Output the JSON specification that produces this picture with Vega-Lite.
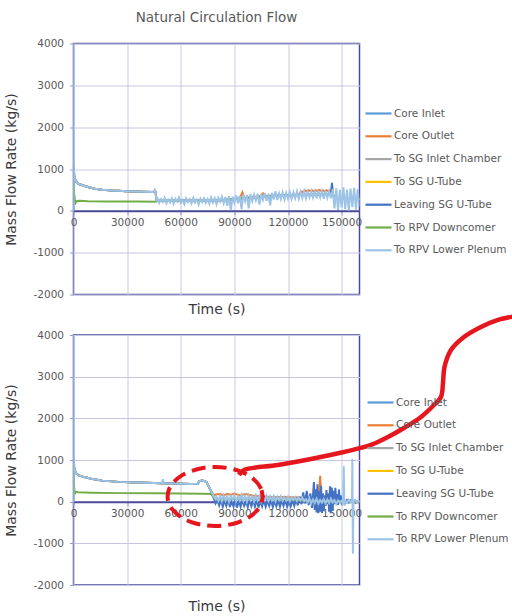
{
  "$schema": "https://vega.github.io/schema/vega-lite/v6.json",
  "background": "white",
  "padding": {"left": 3.5, "top": 9.5, "right": 0, "bottom": 0},
  "bounds": "flush",
  "spacing": 40.5,
  "resolve": {"scale": {"color": "independent"}, "legend": {"color": "independent"}},
  "config": {
    "font": "DejaVu Sans",
    "view": {"stroke": "#4B4B9A", "strokeWidth": 1.5},
    "axis": {
      "gridColor": "#C6C6E2", "gridWidth": 1,
      "labelColor": "#595959", "labelFontSize": 10.5,
      "titleColor": "#3A3A3A", "titleFontSize": 14, "titleFontWeight": "normal",
      "tickColor": "#9A9AC8", "tickSize": 4
    },
    "legend": {
      "title": null, "symbolType": "stroke", "symbolSize": 676, "symbolStrokeWidth": 2.2,
      "labelFontSize": 10.5, "labelColor": "#595959", "rowPadding": 2.8, "labelOffset": 1,
      "padding": 0, "labelLimit": 200
    }
  },
  "datasets": {
    "top": [
      {"series":"Core Inlet","t":0,"v":0},{"series":"Core Inlet","t":60,"v":1100},{"series":"Core Inlet","t":600,"v":790},{"series":"Core Inlet","t":1500,"v":700},{"series":"Core Inlet","t":3000,"v":640},{"series":"Core Inlet","t":5000,"v":610},{"series":"Core Inlet","t":8000,"v":570},{"series":"Core Inlet","t":12000,"v":530},{"series":"Core Inlet","t":16000,"v":505},{"series":"Core Inlet","t":22000,"v":485},{"series":"Core Inlet","t":30000,"v":468},{"series":"Core Inlet","t":38000,"v":458},{"series":"Core Inlet","t":44000,"v":452},{"series":"Core Inlet","t":45000,"v":455},{"series":"Core Inlet","t":46000,"v":440},{"series":"Core Inlet","t":46300,"v":260},{"series":"Core Inlet","t":47000,"v":240},{"series":"Core Inlet","t":60000,"v":240},{"series":"Core Inlet","t":80000,"v":245},{"series":"Core Inlet","t":88000,"v":270},{"series":"Core Inlet","t":100000,"v":320},{"series":"Core Inlet","t":120000,"v":370},{"series":"Core Inlet","t":140000,"v":390},{"series":"Core Inlet","t":145000,"v":380},{"series":"Core Inlet","t":147000,"v":280},{"series":"Core Inlet","t":160000,"v":280},

      {"series":"Core Outlet","t":0,"v":900},{"series":"Core Outlet","t":600,"v":790},{"series":"Core Outlet","t":1500,"v":700},{"series":"Core Outlet","t":3000,"v":640},{"series":"Core Outlet","t":5000,"v":610},{"series":"Core Outlet","t":8000,"v":570},{"series":"Core Outlet","t":12000,"v":530},{"series":"Core Outlet","t":16000,"v":505},{"series":"Core Outlet","t":22000,"v":485},{"series":"Core Outlet","t":30000,"v":468},{"series":"Core Outlet","t":38000,"v":458},{"series":"Core Outlet","t":44000,"v":452},{"series":"Core Outlet","t":45000,"v":455},{"series":"Core Outlet","t":46000,"v":440},{"series":"Core Outlet","t":46300,"v":260},{"series":"Core Outlet","t":47000,"v":240},{"series":"Core Outlet","t":60000,"v":240},{"series":"Core Outlet","t":80000,"v":245},{"series":"Core Outlet","t":88000,"v":270},{"series":"Core Outlet","t":93000,"v":300},{"series":"Core Outlet","t":94500,"v":440},{"series":"Core Outlet","t":95500,"v":300},{"series":"Core Outlet","t":100000,"v":320},{"series":"Core Outlet","t":104000,"v":340},{"series":"Core Outlet","t":106000,"v":420},{"series":"Core Outlet","t":107000,"v":340},{"series":"Core Outlet","t":110000,"v":360},{"series":"Core Outlet","t":120000,"v":370},{"series":"Core Outlet","t":126000,"v":390},{"series":"Core Outlet","t":127500,"v":460},{"series":"Core Outlet","t":128500,"v":440},{"series":"Core Outlet","t":129500,"v":490},{"series":"Core Outlet","t":130500,"v":465},{"series":"Core Outlet","t":131500,"v":495},{"series":"Core Outlet","t":132500,"v":470},{"series":"Core Outlet","t":133500,"v":490},{"series":"Core Outlet","t":134500,"v":460},{"series":"Core Outlet","t":135500,"v":495},{"series":"Core Outlet","t":136500,"v":470},{"series":"Core Outlet","t":137500,"v":500},{"series":"Core Outlet","t":138500,"v":475},{"series":"Core Outlet","t":139500,"v":490},{"series":"Core Outlet","t":140500,"v":465},{"series":"Core Outlet","t":141500,"v":495},{"series":"Core Outlet","t":142500,"v":470},{"series":"Core Outlet","t":143500,"v":485},{"series":"Core Outlet","t":144500,"v":400},{"series":"Core Outlet","t":147000,"v":280},{"series":"Core Outlet","t":160000,"v":280},

      {"series":"To SG Inlet Chamber","t":0,"v":900},{"series":"To SG Inlet Chamber","t":600,"v":790},{"series":"To SG Inlet Chamber","t":1500,"v":700},{"series":"To SG Inlet Chamber","t":3000,"v":640},{"series":"To SG Inlet Chamber","t":5000,"v":610},{"series":"To SG Inlet Chamber","t":8000,"v":570},{"series":"To SG Inlet Chamber","t":12000,"v":530},{"series":"To SG Inlet Chamber","t":16000,"v":505},{"series":"To SG Inlet Chamber","t":22000,"v":485},{"series":"To SG Inlet Chamber","t":30000,"v":468},{"series":"To SG Inlet Chamber","t":38000,"v":458},{"series":"To SG Inlet Chamber","t":44000,"v":452},{"series":"To SG Inlet Chamber","t":45000,"v":455},{"series":"To SG Inlet Chamber","t":46000,"v":440},{"series":"To SG Inlet Chamber","t":46300,"v":260},{"series":"To SG Inlet Chamber","t":47000,"v":240},{"series":"To SG Inlet Chamber","t":60000,"v":240},{"series":"To SG Inlet Chamber","t":80000,"v":245},{"series":"To SG Inlet Chamber","t":88000,"v":270},{"series":"To SG Inlet Chamber","t":100000,"v":320},{"series":"To SG Inlet Chamber","t":120000,"v":370},{"series":"To SG Inlet Chamber","t":140000,"v":390},{"series":"To SG Inlet Chamber","t":145000,"v":380},{"series":"To SG Inlet Chamber","t":147000,"v":280},{"series":"To SG Inlet Chamber","t":160000,"v":280},

      {"series":"To SG U-Tube","t":0,"v":900},{"series":"To SG U-Tube","t":600,"v":790},{"series":"To SG U-Tube","t":1500,"v":700},{"series":"To SG U-Tube","t":3000,"v":640},{"series":"To SG U-Tube","t":5000,"v":610},{"series":"To SG U-Tube","t":8000,"v":570},{"series":"To SG U-Tube","t":12000,"v":530},{"series":"To SG U-Tube","t":16000,"v":505},{"series":"To SG U-Tube","t":22000,"v":485},{"series":"To SG U-Tube","t":30000,"v":468},{"series":"To SG U-Tube","t":38000,"v":458},{"series":"To SG U-Tube","t":44000,"v":452},{"series":"To SG U-Tube","t":45000,"v":455},{"series":"To SG U-Tube","t":46000,"v":440},{"series":"To SG U-Tube","t":46300,"v":260},{"series":"To SG U-Tube","t":47000,"v":240},{"series":"To SG U-Tube","t":60000,"v":240},{"series":"To SG U-Tube","t":80000,"v":245},{"series":"To SG U-Tube","t":88000,"v":270},{"series":"To SG U-Tube","t":100000,"v":320},{"series":"To SG U-Tube","t":120000,"v":370},{"series":"To SG U-Tube","t":140000,"v":390},{"series":"To SG U-Tube","t":145000,"v":380},{"series":"To SG U-Tube","t":147000,"v":280},{"series":"To SG U-Tube","t":160000,"v":280},

      {"series":"Leaving SG U-Tube","t":0,"v":900},{"series":"Leaving SG U-Tube","t":600,"v":790},{"series":"Leaving SG U-Tube","t":1500,"v":700},{"series":"Leaving SG U-Tube","t":3000,"v":640},{"series":"Leaving SG U-Tube","t":5000,"v":610},{"series":"Leaving SG U-Tube","t":8000,"v":570},{"series":"Leaving SG U-Tube","t":12000,"v":530},{"series":"Leaving SG U-Tube","t":16000,"v":505},{"series":"Leaving SG U-Tube","t":22000,"v":485},{"series":"Leaving SG U-Tube","t":30000,"v":468},{"series":"Leaving SG U-Tube","t":38000,"v":458},{"series":"Leaving SG U-Tube","t":44000,"v":452},{"series":"Leaving SG U-Tube","t":45000,"v":455},{"series":"Leaving SG U-Tube","t":46000,"v":440},{"series":"Leaving SG U-Tube","t":46300,"v":260},{"series":"Leaving SG U-Tube","t":47000,"v":240},{"series":"Leaving SG U-Tube","t":60000,"v":240},{"series":"Leaving SG U-Tube","t":80000,"v":245},{"series":"Leaving SG U-Tube","t":88000,"v":270},{"series":"Leaving SG U-Tube","t":100000,"v":320},{"series":"Leaving SG U-Tube","t":120000,"v":370},{"series":"Leaving SG U-Tube","t":140000,"v":390},{"series":"Leaving SG U-Tube","t":144000,"v":390},{"series":"Leaving SG U-Tube","t":144600,"v":670},{"series":"Leaving SG U-Tube","t":145200,"v":380},{"series":"Leaving SG U-Tube","t":147000,"v":280},{"series":"Leaving SG U-Tube","t":160000,"v":280},

      {"series":"To RPV Downcomer","t":0,"v":700},{"series":"To RPV Downcomer","t":300,"v":430},{"series":"To RPV Downcomer","t":800,"v":260},{"series":"To RPV Downcomer","t":1200,"v":190},{"series":"To RPV Downcomer","t":2000,"v":235},{"series":"To RPV Downcomer","t":3500,"v":240},{"series":"To RPV Downcomer","t":8000,"v":232},{"series":"To RPV Downcomer","t":20000,"v":225},{"series":"To RPV Downcomer","t":35000,"v":222},{"series":"To RPV Downcomer","t":46000,"v":220},{"series":"To RPV Downcomer","t":47000,"v":240},{"series":"To RPV Downcomer","t":60000,"v":240},{"series":"To RPV Downcomer","t":80000,"v":245},{"series":"To RPV Downcomer","t":88000,"v":270},{"series":"To RPV Downcomer","t":100000,"v":320},{"series":"To RPV Downcomer","t":120000,"v":370},{"series":"To RPV Downcomer","t":140000,"v":390},{"series":"To RPV Downcomer","t":145000,"v":380},{"series":"To RPV Downcomer","t":147000,"v":280},{"series":"To RPV Downcomer","t":160000,"v":280},

      {"series":"To RPV Lower Plenum","t":0,"v":0},{"series":"To RPV Lower Plenum","t":60,"v":4400},{"series":"To RPV Lower Plenum","t":200,"v":1000},{"series":"To RPV Lower Plenum","t":600,"v":790},{"series":"To RPV Lower Plenum","t":1500,"v":700},{"series":"To RPV Lower Plenum","t":3000,"v":640},{"series":"To RPV Lower Plenum","t":5000,"v":610},{"series":"To RPV Lower Plenum","t":8000,"v":570},{"series":"To RPV Lower Plenum","t":12000,"v":530},{"series":"To RPV Lower Plenum","t":16000,"v":505},{"series":"To RPV Lower Plenum","t":22000,"v":485},{"series":"To RPV Lower Plenum","t":30000,"v":468},{"series":"To RPV Lower Plenum","t":38000,"v":458},{"series":"To RPV Lower Plenum","t":44000,"v":452},{"series":"To RPV Lower Plenum","t":45000,"v":455},{"series":"To RPV Lower Plenum","t":45500,"v":500},{"series":"To RPV Lower Plenum","t":46000,"v":440},{"series":"To RPV Lower Plenum","t":46300,"v":260},
      {"series":"To RPV Lower Plenum","t":47000,"v":300},{"series":"To RPV Lower Plenum","t":48000,"v":190},{"series":"To RPV Lower Plenum","t":49000,"v":280},{"series":"To RPV Lower Plenum","t":50000,"v":210},{"series":"To RPV Lower Plenum","t":51000,"v":310},{"series":"To RPV Lower Plenum","t":52000,"v":180},{"series":"To RPV Lower Plenum","t":53000,"v":270},{"series":"To RPV Lower Plenum","t":54000,"v":200},{"series":"To RPV Lower Plenum","t":55000,"v":300},{"series":"To RPV Lower Plenum","t":56000,"v":170},{"series":"To RPV Lower Plenum","t":57000,"v":290},{"series":"To RPV Lower Plenum","t":58000,"v":220},{"series":"To RPV Lower Plenum","t":59000,"v":320},{"series":"To RPV Lower Plenum","t":60000,"v":190},{"series":"To RPV Lower Plenum","t":61000,"v":260},{"series":"To RPV Lower Plenum","t":62000,"v":160},{"series":"To RPV Lower Plenum","t":63000,"v":300},{"series":"To RPV Lower Plenum","t":64000,"v":210},{"series":"To RPV Lower Plenum","t":65000,"v":280},{"series":"To RPV Lower Plenum","t":66000,"v":180},{"series":"To RPV Lower Plenum","t":67000,"v":310},{"series":"To RPV Lower Plenum","t":68000,"v":200},{"series":"To RPV Lower Plenum","t":69000,"v":270},{"series":"To RPV Lower Plenum","t":70000,"v":150},{"series":"To RPV Lower Plenum","t":71000,"v":290},{"series":"To RPV Lower Plenum","t":72000,"v":210},{"series":"To RPV Lower Plenum","t":73000,"v":300},{"series":"To RPV Lower Plenum","t":74000,"v":190},{"series":"To RPV Lower Plenum","t":75000,"v":280},{"series":"To RPV Lower Plenum","t":76000,"v":170},{"series":"To RPV Lower Plenum","t":77000,"v":320},{"series":"To RPV Lower Plenum","t":78000,"v":200},{"series":"To RPV Lower Plenum","t":79000,"v":300},{"series":"To RPV Lower Plenum","t":80000,"v":160},{"series":"To RPV Lower Plenum","t":81000,"v":310},{"series":"To RPV Lower Plenum","t":82000,"v":220},{"series":"To RPV Lower Plenum","t":83000,"v":340},{"series":"To RPV Lower Plenum","t":84000,"v":180},{"series":"To RPV Lower Plenum","t":85000,"v":330},{"series":"To RPV Lower Plenum","t":86000,"v":120},{"series":"To RPV Lower Plenum","t":87000,"v":350},{"series":"To RPV Lower Plenum","t":88000,"v":20},{"series":"To RPV Lower Plenum","t":89000,"v":340},{"series":"To RPV Lower Plenum","t":90000,"v":200},{"series":"To RPV Lower Plenum","t":91000,"v":370},{"series":"To RPV Lower Plenum","t":92000,"v":180},{"series":"To RPV Lower Plenum","t":93000,"v":360},{"series":"To RPV Lower Plenum","t":94000,"v":40},{"series":"To RPV Lower Plenum","t":95000,"v":390},{"series":"To RPV Lower Plenum","t":96000,"v":230},{"series":"To RPV Lower Plenum","t":97000,"v":380},{"series":"To RPV Lower Plenum","t":98000,"v":60},{"series":"To RPV Lower Plenum","t":99000,"v":400},{"series":"To RPV Lower Plenum","t":100000,"v":230},{"series":"To RPV Lower Plenum","t":101000,"v":390},{"series":"To RPV Lower Plenum","t":102000,"v":250},{"series":"To RPV Lower Plenum","t":103000,"v":410},{"series":"To RPV Lower Plenum","t":104000,"v":150},{"series":"To RPV Lower Plenum","t":105000,"v":400},{"series":"To RPV Lower Plenum","t":106000,"v":260},{"series":"To RPV Lower Plenum","t":107000,"v":420},{"series":"To RPV Lower Plenum","t":108000,"v":240},{"series":"To RPV Lower Plenum","t":109000,"v":410},{"series":"To RPV Lower Plenum","t":110000,"v":130},{"series":"To RPV Lower Plenum","t":111000,"v":430},{"series":"To RPV Lower Plenum","t":112000,"v":270},{"series":"To RPV Lower Plenum","t":113000,"v":470},{"series":"To RPV Lower Plenum","t":114000,"v":260},{"series":"To RPV Lower Plenum","t":115000,"v":420},{"series":"To RPV Lower Plenum","t":116000,"v":280},{"series":"To RPV Lower Plenum","t":117000,"v":440},{"series":"To RPV Lower Plenum","t":118000,"v":270},{"series":"To RPV Lower Plenum","t":119000,"v":430},{"series":"To RPV Lower Plenum","t":120000,"v":290},{"series":"To RPV Lower Plenum","t":121000,"v":450},{"series":"To RPV Lower Plenum","t":122000,"v":280},{"series":"To RPV Lower Plenum","t":123000,"v":440},{"series":"To RPV Lower Plenum","t":124000,"v":300},{"series":"To RPV Lower Plenum","t":125000,"v":460},{"series":"To RPV Lower Plenum","t":126000,"v":290},{"series":"To RPV Lower Plenum","t":127000,"v":450},{"series":"To RPV Lower Plenum","t":128000,"v":310},{"series":"To RPV Lower Plenum","t":129000,"v":470},{"series":"To RPV Lower Plenum","t":130000,"v":300},{"series":"To RPV Lower Plenum","t":131000,"v":450},{"series":"To RPV Lower Plenum","t":132000,"v":320},{"series":"To RPV Lower Plenum","t":133000,"v":470},{"series":"To RPV Lower Plenum","t":134000,"v":310},{"series":"To RPV Lower Plenum","t":135000,"v":460},{"series":"To RPV Lower Plenum","t":136000,"v":300},{"series":"To RPV Lower Plenum","t":137000,"v":480},{"series":"To RPV Lower Plenum","t":138000,"v":320},{"series":"To RPV Lower Plenum","t":139000,"v":470},{"series":"To RPV Lower Plenum","t":140000,"v":290},{"series":"To RPV Lower Plenum","t":141000,"v":480},{"series":"To RPV Lower Plenum","t":142000,"v":310},{"series":"To RPV Lower Plenum","t":143000,"v":470},{"series":"To RPV Lower Plenum","t":144000,"v":300},{"series":"To RPV Lower Plenum","t":145000,"v":520},{"series":"To RPV Lower Plenum","t":146000,"v":60},{"series":"To RPV Lower Plenum","t":147000,"v":540},{"series":"To RPV Lower Plenum","t":148000,"v":20},{"series":"To RPV Lower Plenum","t":149000,"v":500},{"series":"To RPV Lower Plenum","t":150000,"v":80},{"series":"To RPV Lower Plenum","t":151000,"v":560},{"series":"To RPV Lower Plenum","t":152000,"v":40},{"series":"To RPV Lower Plenum","t":153000,"v":510},{"series":"To RPV Lower Plenum","t":154000,"v":10},{"series":"To RPV Lower Plenum","t":155000,"v":530},{"series":"To RPV Lower Plenum","t":156000,"v":90},{"series":"To RPV Lower Plenum","t":157000,"v":550},{"series":"To RPV Lower Plenum","t":158000,"v":30},{"series":"To RPV Lower Plenum","t":159000,"v":520},{"series":"To RPV Lower Plenum","t":160000,"v":100}
    ],
    "bottom": [
      {"series":"Core Inlet","t":0,"v":0},{"series":"Core Inlet","t":60,"v":1050},{"series":"Core Inlet","t":600,"v":770},{"series":"Core Inlet","t":1500,"v":680},{"series":"Core Inlet","t":3000,"v":630},{"series":"Core Inlet","t":6000,"v":590},{"series":"Core Inlet","t":10000,"v":550},{"series":"Core Inlet","t":16000,"v":505},{"series":"Core Inlet","t":25000,"v":475},{"series":"Core Inlet","t":35000,"v":458},{"series":"Core Inlet","t":45000,"v":447},{"series":"Core Inlet","t":49500,"v":440},{"series":"Core Inlet","t":50500,"v":442},{"series":"Core Inlet","t":60000,"v":432},{"series":"Core Inlet","t":66000,"v":425},{"series":"Core Inlet","t":69500,"v":430},{"series":"Core Inlet","t":70500,"v":495},{"series":"Core Inlet","t":72000,"v":510},{"series":"Core Inlet","t":73500,"v":490},{"series":"Core Inlet","t":74500,"v":465},{"series":"Core Inlet","t":75500,"v":380},{"series":"Core Inlet","t":77000,"v":250},{"series":"Core Inlet","t":78500,"v":120},{"series":"Core Inlet","t":79500,"v":60},{"series":"Core Inlet","t":100000,"v":70},{"series":"Core Inlet","t":120000,"v":60},{"series":"Core Inlet","t":130000,"v":20},{"series":"Core Inlet","t":150000,"v":0},{"series":"Core Inlet","t":160000,"v":0},

      {"series":"Core Outlet","t":0,"v":900},{"series":"Core Outlet","t":600,"v":770},{"series":"Core Outlet","t":1500,"v":680},{"series":"Core Outlet","t":3000,"v":630},{"series":"Core Outlet","t":6000,"v":590},{"series":"Core Outlet","t":10000,"v":550},{"series":"Core Outlet","t":16000,"v":505},{"series":"Core Outlet","t":25000,"v":475},{"series":"Core Outlet","t":35000,"v":458},{"series":"Core Outlet","t":45000,"v":447},{"series":"Core Outlet","t":49500,"v":440},{"series":"Core Outlet","t":50500,"v":442},{"series":"Core Outlet","t":60000,"v":432},{"series":"Core Outlet","t":66000,"v":425},{"series":"Core Outlet","t":69500,"v":430},{"series":"Core Outlet","t":70500,"v":495},{"series":"Core Outlet","t":72000,"v":510},{"series":"Core Outlet","t":73500,"v":490},{"series":"Core Outlet","t":74500,"v":465},{"series":"Core Outlet","t":75500,"v":380},{"series":"Core Outlet","t":77000,"v":250},{"series":"Core Outlet","t":78500,"v":150},{"series":"Core Outlet","t":79500,"v":170},{"series":"Core Outlet","t":82000,"v":185},{"series":"Core Outlet","t":84000,"v":150},{"series":"Core Outlet","t":86000,"v":190},{"series":"Core Outlet","t":88000,"v":160},{"series":"Core Outlet","t":90000,"v":195},{"series":"Core Outlet","t":93000,"v":150},{"series":"Core Outlet","t":96000,"v":185},{"series":"Core Outlet","t":100000,"v":150},{"series":"Core Outlet","t":104000,"v":130},{"series":"Core Outlet","t":110000,"v":115},{"series":"Core Outlet","t":116000,"v":110},{"series":"Core Outlet","t":122000,"v":105},{"series":"Core Outlet","t":128000,"v":95},{"series":"Core Outlet","t":132000,"v":80},{"series":"Core Outlet","t":136000,"v":100},{"series":"Core Outlet","t":137500,"v":260},{"series":"Core Outlet","t":138000,"v":620},{"series":"Core Outlet","t":138500,"v":180},{"series":"Core Outlet","t":140000,"v":60},{"series":"Core Outlet","t":146000,"v":40},{"series":"Core Outlet","t":150000,"v":20},{"series":"Core Outlet","t":160000,"v":0},

      {"series":"To SG Inlet Chamber","t":0,"v":900},{"series":"To SG Inlet Chamber","t":600,"v":770},{"series":"To SG Inlet Chamber","t":1500,"v":680},{"series":"To SG Inlet Chamber","t":3000,"v":630},{"series":"To SG Inlet Chamber","t":6000,"v":590},{"series":"To SG Inlet Chamber","t":10000,"v":550},{"series":"To SG Inlet Chamber","t":16000,"v":505},{"series":"To SG Inlet Chamber","t":25000,"v":475},{"series":"To SG Inlet Chamber","t":35000,"v":458},{"series":"To SG Inlet Chamber","t":45000,"v":447},{"series":"To SG Inlet Chamber","t":49500,"v":440},{"series":"To SG Inlet Chamber","t":50500,"v":442},{"series":"To SG Inlet Chamber","t":60000,"v":432},{"series":"To SG Inlet Chamber","t":66000,"v":425},{"series":"To SG Inlet Chamber","t":69500,"v":430},{"series":"To SG Inlet Chamber","t":70500,"v":495},{"series":"To SG Inlet Chamber","t":72000,"v":510},{"series":"To SG Inlet Chamber","t":73500,"v":490},{"series":"To SG Inlet Chamber","t":74500,"v":465},{"series":"To SG Inlet Chamber","t":75500,"v":380},{"series":"To SG Inlet Chamber","t":77000,"v":250},{"series":"To SG Inlet Chamber","t":78500,"v":120},{"series":"To SG Inlet Chamber","t":79500,"v":60},{"series":"To SG Inlet Chamber","t":100000,"v":70},{"series":"To SG Inlet Chamber","t":120000,"v":60},{"series":"To SG Inlet Chamber","t":130000,"v":20},{"series":"To SG Inlet Chamber","t":150000,"v":0},{"series":"To SG Inlet Chamber","t":160000,"v":0},

      {"series":"To SG U-Tube","t":0,"v":900},{"series":"To SG U-Tube","t":600,"v":770},{"series":"To SG U-Tube","t":1500,"v":680},{"series":"To SG U-Tube","t":3000,"v":630},{"series":"To SG U-Tube","t":6000,"v":590},{"series":"To SG U-Tube","t":10000,"v":550},{"series":"To SG U-Tube","t":16000,"v":505},{"series":"To SG U-Tube","t":25000,"v":475},{"series":"To SG U-Tube","t":35000,"v":458},{"series":"To SG U-Tube","t":45000,"v":447},{"series":"To SG U-Tube","t":49500,"v":440},{"series":"To SG U-Tube","t":50500,"v":442},{"series":"To SG U-Tube","t":60000,"v":432},{"series":"To SG U-Tube","t":66000,"v":425},{"series":"To SG U-Tube","t":69500,"v":430},{"series":"To SG U-Tube","t":70500,"v":495},{"series":"To SG U-Tube","t":72000,"v":510},{"series":"To SG U-Tube","t":73500,"v":490},{"series":"To SG U-Tube","t":74500,"v":465},{"series":"To SG U-Tube","t":75500,"v":380},{"series":"To SG U-Tube","t":77000,"v":250},{"series":"To SG U-Tube","t":78500,"v":120},{"series":"To SG U-Tube","t":79500,"v":60},{"series":"To SG U-Tube","t":100000,"v":70},{"series":"To SG U-Tube","t":120000,"v":60},{"series":"To SG U-Tube","t":130000,"v":20},{"series":"To SG U-Tube","t":150000,"v":0},{"series":"To SG U-Tube","t":160000,"v":0},

      {"series":"Leaving SG U-Tube","t":0,"v":900},{"series":"Leaving SG U-Tube","t":600,"v":770},{"series":"Leaving SG U-Tube","t":1500,"v":680},{"series":"Leaving SG U-Tube","t":3000,"v":630},{"series":"Leaving SG U-Tube","t":6000,"v":590},{"series":"Leaving SG U-Tube","t":10000,"v":550},{"series":"Leaving SG U-Tube","t":16000,"v":505},{"series":"Leaving SG U-Tube","t":25000,"v":475},{"series":"Leaving SG U-Tube","t":35000,"v":458},{"series":"Leaving SG U-Tube","t":45000,"v":447},{"series":"Leaving SG U-Tube","t":49500,"v":440},{"series":"Leaving SG U-Tube","t":50500,"v":442},{"series":"Leaving SG U-Tube","t":60000,"v":432},{"series":"Leaving SG U-Tube","t":66000,"v":425},{"series":"Leaving SG U-Tube","t":69500,"v":430},{"series":"Leaving SG U-Tube","t":70500,"v":495},{"series":"Leaving SG U-Tube","t":72000,"v":510},{"series":"Leaving SG U-Tube","t":73500,"v":490},{"series":"Leaving SG U-Tube","t":74500,"v":465},{"series":"Leaving SG U-Tube","t":75500,"v":380},{"series":"Leaving SG U-Tube","t":77000,"v":250},
      {"series":"Leaving SG U-Tube","t":78500,"v":80},{"series":"Leaving SG U-Tube","t":79500,"v":-40},{"series":"Leaving SG U-Tube","t":80500,"v":50},{"series":"Leaving SG U-Tube","t":81500,"v":-90},{"series":"Leaving SG U-Tube","t":82500,"v":40},{"series":"Leaving SG U-Tube","t":83500,"v":-120},{"series":"Leaving SG U-Tube","t":84500,"v":30},{"series":"Leaving SG U-Tube","t":85500,"v":-100},{"series":"Leaving SG U-Tube","t":86500,"v":60},{"series":"Leaving SG U-Tube","t":87500,"v":-130},{"series":"Leaving SG U-Tube","t":88500,"v":20},{"series":"Leaving SG U-Tube","t":89500,"v":-110},{"series":"Leaving SG U-Tube","t":90500,"v":50},{"series":"Leaving SG U-Tube","t":91500,"v":-140},{"series":"Leaving SG U-Tube","t":92500,"v":30},{"series":"Leaving SG U-Tube","t":93500,"v":-120},{"series":"Leaving SG U-Tube","t":94500,"v":40},{"series":"Leaving SG U-Tube","t":95500,"v":-100},{"series":"Leaving SG U-Tube","t":96500,"v":20},{"series":"Leaving SG U-Tube","t":97500,"v":-130},{"series":"Leaving SG U-Tube","t":98500,"v":50},{"series":"Leaving SG U-Tube","t":99500,"v":-110},{"series":"Leaving SG U-Tube","t":100500,"v":30},{"series":"Leaving SG U-Tube","t":101500,"v":-120},{"series":"Leaving SG U-Tube","t":102500,"v":40},{"series":"Leaving SG U-Tube","t":103500,"v":-140},{"series":"Leaving SG U-Tube","t":104500,"v":20},{"series":"Leaving SG U-Tube","t":105500,"v":-110},{"series":"Leaving SG U-Tube","t":106500,"v":50},{"series":"Leaving SG U-Tube","t":107500,"v":-120},{"series":"Leaving SG U-Tube","t":108500,"v":30},{"series":"Leaving SG U-Tube","t":109500,"v":-100},{"series":"Leaving SG U-Tube","t":110500,"v":40},{"series":"Leaving SG U-Tube","t":111500,"v":-130},{"series":"Leaving SG U-Tube","t":112500,"v":20},{"series":"Leaving SG U-Tube","t":113500,"v":-110},{"series":"Leaving SG U-Tube","t":114500,"v":40},{"series":"Leaving SG U-Tube","t":115500,"v":-120},{"series":"Leaving SG U-Tube","t":116500,"v":30},{"series":"Leaving SG U-Tube","t":117500,"v":-100},{"series":"Leaving SG U-Tube","t":118500,"v":50},{"series":"Leaving SG U-Tube","t":119500,"v":-120},{"series":"Leaving SG U-Tube","t":120500,"v":20},{"series":"Leaving SG U-Tube","t":121500,"v":-110},{"series":"Leaving SG U-Tube","t":122500,"v":40},{"series":"Leaving SG U-Tube","t":123500,"v":-100},{"series":"Leaving SG U-Tube","t":124500,"v":60},{"series":"Leaving SG U-Tube","t":125500,"v":-90},{"series":"Leaving SG U-Tube","t":126500,"v":120},{"series":"Leaving SG U-Tube","t":127500,"v":-60},{"series":"Leaving SG U-Tube","t":128500,"v":220},{"series":"Leaving SG U-Tube","t":129500,"v":-40},{"series":"Leaving SG U-Tube","t":130500,"v":260},{"series":"Leaving SG U-Tube","t":131500,"v":-80},{"series":"Leaving SG U-Tube","t":132500,"v":200},{"series":"Leaving SG U-Tube","t":133500,"v":-150},{"series":"Leaving SG U-Tube","t":134500,"v":470},{"series":"Leaving SG U-Tube","t":135000,"v":-200},{"series":"Leaving SG U-Tube","t":135500,"v":300},{"series":"Leaving SG U-Tube","t":136000,"v":-260},{"series":"Leaving SG U-Tube","t":136500,"v":420},{"series":"Leaving SG U-Tube","t":137000,"v":-280},{"series":"Leaving SG U-Tube","t":137500,"v":250},{"series":"Leaving SG U-Tube","t":138000,"v":-240},{"series":"Leaving SG U-Tube","t":138500,"v":380},{"series":"Leaving SG U-Tube","t":139000,"v":-270},{"series":"Leaving SG U-Tube","t":139500,"v":200},{"series":"Leaving SG U-Tube","t":140000,"v":-230},{"series":"Leaving SG U-Tube","t":140500,"v":150},{"series":"Leaving SG U-Tube","t":141000,"v":-100},{"series":"Leaving SG U-Tube","t":141500,"v":280},{"series":"Leaving SG U-Tube","t":142000,"v":-60},{"series":"Leaving SG U-Tube","t":142500,"v":200},{"series":"Leaving SG U-Tube","t":143000,"v":-240},{"series":"Leaving SG U-Tube","t":143500,"v":370},{"series":"Leaving SG U-Tube","t":144000,"v":-280},{"series":"Leaving SG U-Tube","t":144500,"v":340},{"series":"Leaving SG U-Tube","t":145000,"v":-220},{"series":"Leaving SG U-Tube","t":145500,"v":260},{"series":"Leaving SG U-Tube","t":146000,"v":-60},{"series":"Leaving SG U-Tube","t":146500,"v":330},{"series":"Leaving SG U-Tube","t":147000,"v":-40},{"series":"Leaving SG U-Tube","t":147500,"v":180},{"series":"Leaving SG U-Tube","t":148000,"v":-80},{"series":"Leaving SG U-Tube","t":148500,"v":290},{"series":"Leaving SG U-Tube","t":149000,"v":-30},{"series":"Leaving SG U-Tube","t":149500,"v":150},{"series":"Leaving SG U-Tube","t":150000,"v":-20},{"series":"Leaving SG U-Tube","t":151000,"v":60},{"series":"Leaving SG U-Tube","t":152000,"v":-30},{"series":"Leaving SG U-Tube","t":153000,"v":40},{"series":"Leaving SG U-Tube","t":154000,"v":-20},{"series":"Leaving SG U-Tube","t":155000,"v":30},{"series":"Leaving SG U-Tube","t":156000,"v":-10},{"series":"Leaving SG U-Tube","t":157000,"v":20},{"series":"Leaving SG U-Tube","t":158000,"v":-30},{"series":"Leaving SG U-Tube","t":159000,"v":10},{"series":"Leaving SG U-Tube","t":160000,"v":0},

      {"series":"To RPV Downcomer","t":0,"v":700},{"series":"To RPV Downcomer","t":300,"v":380},{"series":"To RPV Downcomer","t":700,"v":180},{"series":"To RPV Downcomer","t":1200,"v":235},{"series":"To RPV Downcomer","t":2500,"v":225},{"series":"To RPV Downcomer","t":10000,"v":215},{"series":"To RPV Downcomer","t":25000,"v":205},{"series":"To RPV Downcomer","t":45000,"v":200},{"series":"To RPV Downcomer","t":60000,"v":195},{"series":"To RPV Downcomer","t":72000,"v":190},{"series":"To RPV Downcomer","t":77000,"v":185},{"series":"To RPV Downcomer","t":78000,"v":120},{"series":"To RPV Downcomer","t":79500,"v":60},{"series":"To RPV Downcomer","t":100000,"v":70},{"series":"To RPV Downcomer","t":120000,"v":60},{"series":"To RPV Downcomer","t":130000,"v":20},{"series":"To RPV Downcomer","t":150000,"v":0},{"series":"To RPV Downcomer","t":160000,"v":0},

      {"series":"To RPV Lower Plenum","t":0,"v":0},{"series":"To RPV Lower Plenum","t":60,"v":4400},{"series":"To RPV Lower Plenum","t":200,"v":950},{"series":"To RPV Lower Plenum","t":600,"v":770},{"series":"To RPV Lower Plenum","t":1500,"v":680},{"series":"To RPV Lower Plenum","t":3000,"v":630},{"series":"To RPV Lower Plenum","t":6000,"v":590},{"series":"To RPV Lower Plenum","t":10000,"v":550},{"series":"To RPV Lower Plenum","t":16000,"v":505},{"series":"To RPV Lower Plenum","t":25000,"v":475},{"series":"To RPV Lower Plenum","t":35000,"v":458},{"series":"To RPV Lower Plenum","t":45000,"v":447},{"series":"To RPV Lower Plenum","t":49500,"v":440},{"series":"To RPV Lower Plenum","t":50000,"v":540},{"series":"To RPV Lower Plenum","t":50500,"v":442},{"series":"To RPV Lower Plenum","t":60000,"v":432},{"series":"To RPV Lower Plenum","t":66000,"v":425},{"series":"To RPV Lower Plenum","t":69500,"v":430},{"series":"To RPV Lower Plenum","t":70500,"v":495},{"series":"To RPV Lower Plenum","t":72000,"v":510},{"series":"To RPV Lower Plenum","t":73500,"v":490},{"series":"To RPV Lower Plenum","t":74500,"v":465},{"series":"To RPV Lower Plenum","t":75500,"v":380},{"series":"To RPV Lower Plenum","t":77000,"v":250},{"series":"To RPV Lower Plenum","t":78500,"v":120},{"series":"To RPV Lower Plenum","t":79500,"v":60},
      {"series":"To RPV Lower Plenum","t":80000,"v":120},{"series":"To RPV Lower Plenum","t":81000,"v":20},{"series":"To RPV Lower Plenum","t":82000,"v":140},{"series":"To RPV Lower Plenum","t":83000,"v":10},{"series":"To RPV Lower Plenum","t":84000,"v":150},{"series":"To RPV Lower Plenum","t":85000,"v":30},{"series":"To RPV Lower Plenum","t":86000,"v":130},{"series":"To RPV Lower Plenum","t":87000,"v":0},{"series":"To RPV Lower Plenum","t":88000,"v":140},{"series":"To RPV Lower Plenum","t":89000,"v":40},{"series":"To RPV Lower Plenum","t":90000,"v":150},{"series":"To RPV Lower Plenum","t":91000,"v":10},{"series":"To RPV Lower Plenum","t":92000,"v":130},{"series":"To RPV Lower Plenum","t":93000,"v":30},{"series":"To RPV Lower Plenum","t":94000,"v":160},{"series":"To RPV Lower Plenum","t":95000,"v":20},{"series":"To RPV Lower Plenum","t":96000,"v":140},{"series":"To RPV Lower Plenum","t":97000,"v":0},{"series":"To RPV Lower Plenum","t":98000,"v":150},{"series":"To RPV Lower Plenum","t":99000,"v":40},{"series":"To RPV Lower Plenum","t":100000,"v":130},{"series":"To RPV Lower Plenum","t":101000,"v":10},{"series":"To RPV Lower Plenum","t":102000,"v":150},{"series":"To RPV Lower Plenum","t":103000,"v":30},{"series":"To RPV Lower Plenum","t":104000,"v":140},{"series":"To RPV Lower Plenum","t":105000,"v":0},{"series":"To RPV Lower Plenum","t":106000,"v":120},{"series":"To RPV Lower Plenum","t":107000,"v":40},{"series":"To RPV Lower Plenum","t":108000,"v":150},{"series":"To RPV Lower Plenum","t":109000,"v":20},{"series":"To RPV Lower Plenum","t":110000,"v":130},{"series":"To RPV Lower Plenum","t":111000,"v":30},{"series":"To RPV Lower Plenum","t":112000,"v":140},{"series":"To RPV Lower Plenum","t":113000,"v":10},{"series":"To RPV Lower Plenum","t":114000,"v":120},{"series":"To RPV Lower Plenum","t":115000,"v":40},{"series":"To RPV Lower Plenum","t":116000,"v":130},{"series":"To RPV Lower Plenum","t":117000,"v":20},{"series":"To RPV Lower Plenum","t":118000,"v":110},{"series":"To RPV Lower Plenum","t":119000,"v":30},{"series":"To RPV Lower Plenum","t":120000,"v":120},{"series":"To RPV Lower Plenum","t":121000,"v":10},{"series":"To RPV Lower Plenum","t":122000,"v":100},{"series":"To RPV Lower Plenum","t":123000,"v":40},{"series":"To RPV Lower Plenum","t":124000,"v":110},{"series":"To RPV Lower Plenum","t":125000,"v":20},{"series":"To RPV Lower Plenum","t":126000,"v":90},{"series":"To RPV Lower Plenum","t":127000,"v":30},{"series":"To RPV Lower Plenum","t":128000,"v":100},{"series":"To RPV Lower Plenum","t":129000,"v":10},{"series":"To RPV Lower Plenum","t":130000,"v":60},{"series":"To RPV Lower Plenum","t":131000,"v":-20},{"series":"To RPV Lower Plenum","t":132000,"v":80},{"series":"To RPV Lower Plenum","t":133000,"v":-40},{"series":"To RPV Lower Plenum","t":134000,"v":50},{"series":"To RPV Lower Plenum","t":135000,"v":-30},{"series":"To RPV Lower Plenum","t":136000,"v":70},{"series":"To RPV Lower Plenum","t":137000,"v":-50},{"series":"To RPV Lower Plenum","t":138000,"v":40},{"series":"To RPV Lower Plenum","t":139000,"v":-20},{"series":"To RPV Lower Plenum","t":140000,"v":60},{"series":"To RPV Lower Plenum","t":141000,"v":-40},{"series":"To RPV Lower Plenum","t":142000,"v":50},{"series":"To RPV Lower Plenum","t":143000,"v":-30},{"series":"To RPV Lower Plenum","t":144000,"v":70},{"series":"To RPV Lower Plenum","t":145000,"v":-20},{"series":"To RPV Lower Plenum","t":146000,"v":40},{"series":"To RPV Lower Plenum","t":147000,"v":-60},{"series":"To RPV Lower Plenum","t":148000,"v":30},{"series":"To RPV Lower Plenum","t":149000,"v":-10},{"series":"To RPV Lower Plenum","t":150000,"v":20},{"series":"To RPV Lower Plenum","t":150800,"v":-60},{"series":"To RPV Lower Plenum","t":151200,"v":850},{"series":"To RPV Lower Plenum","t":151500,"v":-100},{"series":"To RPV Lower Plenum","t":152000,"v":30},{"series":"To RPV Lower Plenum","t":153000,"v":-20},{"series":"To RPV Lower Plenum","t":154000,"v":40},{"series":"To RPV Lower Plenum","t":155000,"v":-10},{"series":"To RPV Lower Plenum","t":155800,"v":20},{"series":"To RPV Lower Plenum","t":156000,"v":1030},{"series":"To RPV Lower Plenum","t":156300,"v":-1250},{"series":"To RPV Lower Plenum","t":156600,"v":10},{"series":"To RPV Lower Plenum","t":157500,"v":40},{"series":"To RPV Lower Plenum","t":158500,"v":-20},{"series":"To RPV Lower Plenum","t":159500,"v":30},{"series":"To RPV Lower Plenum","t":160000,"v":0}
    ],
    "ring": [
      {"i":0,"t":105840,"v":124},{"i":1,"t":104936,"v":307},{"i":2,"t":102276,"v":478},{"i":3,"t":98046,"v":625},{"i":4,"t":92540,"v":737},{"i":5,"t":86129,"v":808},{"i":6,"t":79240,"v":832},{"i":7,"t":72351,"v":808},{"i":8,"t":65940,"v":737},{"i":9,"t":60434,"v":625},{"i":10,"t":56204,"v":478},{"i":11,"t":53544,"v":307},{"i":12,"t":52640,"v":124},{"i":13,"t":53544,"v":-59},{"i":14,"t":56204,"v":-230},{"i":15,"t":60434,"v":-377},{"i":16,"t":65940,"v":-489},{"i":17,"t":72351,"v":-560},{"i":18,"t":79240,"v":-584},{"i":19,"t":86129,"v":-560},{"i":20,"t":92540,"v":-489},{"i":21,"t":98046,"v":-377},{"i":22,"t":102276,"v":-230},{"i":23,"t":104936,"v":-59},{"i":24,"t":105840,"v":124}
    ],
    "arrow": [
      {"i":0,"t":92580,"v":641},{"i":1,"t":95380,"v":761},{"i":2,"t":114400,"v":881},{"i":3,"t":132860,"v":1025},{"i":4,"t":151320,"v":1193},{"i":5,"t":166420,"v":1361},{"i":6,"t":175930,"v":1553},{"i":7,"t":184880,"v":1769},{"i":8,"t":194390,"v":2033},{"i":9,"t":201100,"v":2297},{"i":10,"t":205580,"v":2513},{"i":11,"t":206700,"v":2849},{"i":12,"t":207540,"v":3233},{"i":13,"t":211170,"v":3641},{"i":14,"t":218450,"v":3953},{"i":15,"t":227960,"v":4193},{"i":16,"t":237460,"v":4361},{"i":17,"t":246980,"v":4457},{"i":18,"t":252000,"v":4530}
    ]
  },
  "vconcat": [
    {
      "width": 286,
      "height": 251,
      "title": {"text": "Natural Circulation Flow", "fontSize": 13.5, "fontWeight": "normal", "color": "#595959", "offset": 14},
      "data": {"name": "top"},
      "encoding": {
        "x": {"field": "t", "type": "quantitative",
          "scale": {"domain": [0, 160000], "nice": false, "zero": false},
          "axis": {"offset": -83.67, "values": [0, 30000, 60000, 90000, 120000, 150000], "format": "d",
            "labelFlush": false, "labelPadding": 3, "domainColor": "#4B4B9A", "domainWidth": 2, "grid": true,
            "title": "Time (s)", "titleY": 103, "titleBaseline": "alphabetic"}},
        "y": {"field": "v", "type": "quantitative",
          "scale": {"domain": [-2000, 4000], "nice": false},
          "axis": {"values": [-2000, -1000, 0, 1000, 2000, 3000, 4000], "labelExpr": "'' + datum.value", "domain": false, "grid": true,
            "labelPadding": 6, "title": "Mass Flow Rate (kg/s)", "titlePadding": 14}},
        "color": {"field": "series", "type": "nominal",
          "scale": {"domain": ["Core Inlet", "Core Outlet", "To SG Inlet Chamber", "To SG U-Tube", "Leaving SG U-Tube", "To RPV Downcomer", "To RPV Lower Plenum"],
                    "range": ["#5B9BD5", "#ED7D31", "#A5A5A5", "#FFC000", "#4472C4", "#70AD47", "#9DC3E6"]},
          "legend": {"orient": "none", "legendX": 290.5, "legendY": 55.5}}
      },
      "layer": [
        {"transform": [{"filter": "datum.series === 'Core Inlet'"}], "mark": {"type": "line", "clip": true, "strokeWidth": 2}},
        {"transform": [{"filter": "datum.series === 'Core Outlet'"}], "mark": {"type": "line", "clip": true, "strokeWidth": 2}},
        {"transform": [{"filter": "datum.series === 'To SG Inlet Chamber'"}], "mark": {"type": "line", "clip": true, "strokeWidth": 2}},
        {"transform": [{"filter": "datum.series === 'To SG U-Tube'"}], "mark": {"type": "line", "clip": true, "strokeWidth": 2}},
        {"transform": [{"filter": "datum.series === 'Leaving SG U-Tube'"}], "mark": {"type": "line", "clip": true, "strokeWidth": 2}},
        {"transform": [{"filter": "datum.series === 'To RPV Downcomer'"}], "mark": {"type": "line", "clip": true, "strokeWidth": 2}},
        {"transform": [{"filter": "datum.series === 'To RPV Lower Plenum'"}], "mark": {"type": "line", "clip": true, "strokeWidth": 2}}
      ]
    },
    {
      "width": 286,
      "height": 250,
      "data": {"name": "bottom"},
      "encoding": {
        "x": {"field": "t", "type": "quantitative",
          "scale": {"domain": [0, 160000], "nice": false, "zero": false},
          "axis": {"offset": -83.33, "values": [0, 30000, 60000, 90000, 120000, 150000], "format": "d",
            "labelFlush": false, "labelPadding": 3, "domainColor": "#4B4B9A", "domainWidth": 2, "grid": true,
            "title": "Time (s)", "titleY": 109, "titleBaseline": "alphabetic"}},
        "y": {"field": "v", "type": "quantitative",
          "scale": {"domain": [-2000, 4000], "nice": false},
          "axis": {"values": [-2000, -1000, 0, 1000, 2000, 3000, 4000], "labelExpr": "'' + datum.value", "domain": false, "grid": true,
            "labelPadding": 6, "title": "Mass Flow Rate (kg/s)", "titlePadding": 14}},
        "color": {"field": "series", "type": "nominal",
          "scale": {"domain": ["Core Inlet", "Core Outlet", "To SG Inlet Chamber", "To SG U-Tube", "Leaving SG U-Tube", "To RPV Downcomer", "To RPV Lower Plenum"],
                    "range": ["#5B9BD5", "#ED7D31", "#A5A5A5", "#FFC000", "#4472C4", "#70AD47", "#9DC3E6"]},
          "legend": {"orient": "none", "legendX": 292.5, "legendY": 53}}
      },
      "layer": [
        {"transform": [{"filter": "datum.series === 'Core Inlet'"}], "mark": {"type": "line", "clip": true, "strokeWidth": 2}},
        {"transform": [{"filter": "datum.series === 'Core Outlet'"}], "mark": {"type": "line", "clip": true, "strokeWidth": 2}},
        {"transform": [{"filter": "datum.series === 'To SG Inlet Chamber'"}], "mark": {"type": "line", "clip": true, "strokeWidth": 2}},
        {"transform": [{"filter": "datum.series === 'To SG U-Tube'"}], "mark": {"type": "line", "clip": true, "strokeWidth": 2}},
        {"transform": [{"filter": "datum.series === 'Leaving SG U-Tube'"}], "mark": {"type": "line", "clip": true, "strokeWidth": 2}},
        {"transform": [{"filter": "datum.series === 'To RPV Downcomer'"}], "mark": {"type": "line", "clip": true, "strokeWidth": 2}},
        {"transform": [{"filter": "datum.series === 'To RPV Lower Plenum'"}], "mark": {"type": "line", "clip": true, "strokeWidth": 2}},
        {"data": {"name": "ring"},
         "mark": {"type": "line", "clip": false, "strokeWidth": 4, "strokeDash": [14, 7], "interpolate": "cardinal-closed"},
         "encoding": {"order": {"field": "i", "type": "quantitative"}, "color": {"value": "#E5161D"}}},
        {"data": {"name": "arrow"},
         "mark": {"type": "line", "clip": false, "strokeWidth": 4.5, "interpolate": "catmull-rom"},
         "encoding": {"order": {"field": "i", "type": "quantitative"}, "color": {"value": "#E5161D"}}}
      ]
    }
  ]
}
